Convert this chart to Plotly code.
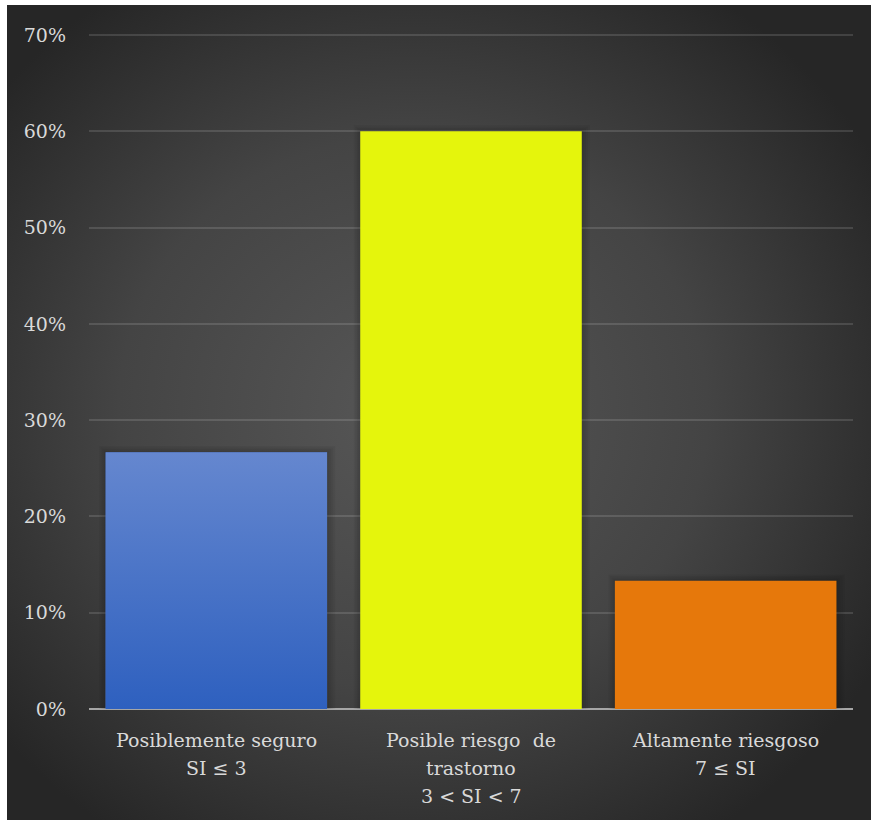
import base64
import plotly.graph_objects as go

# Data
category_lines = [
    ["Posiblemente seguro", "SI ≤ 3"],
    ["Posible riesgo  de", "trastorno", "3 < SI < 7"],
    ["Altamente riesgoso", "7 ≤ SI"],
]
shares = [0.2667, 0.60, 0.1333]
bar_colors = ["#4a75cb", "#e5f50c", "#e6780b"]
y_ticks = [0.0, 0.1, 0.2, 0.3, 0.4, 0.5, 0.6, 0.7]

W, H = 873, 820
M_L, M_R, M_T, M_B = 89, 20, 33, 111
PW, PH = W - M_L - M_R, H - M_T - M_B
Y_TOP = 0.7 * PH / 674  # a touch of headroom so the 70% gridline is kept


def px_to_paper_x(px):
    return (px - M_L) / PW


def px_to_paper_y(py):
    return (H - M_B - py) / PH


def svg_uri(svg):
    return "data:image/svg+xml;base64," + base64.b64encode(svg.encode()).decode()


# Dark panel with a soft radial highlight
bg_svg = (
    '<svg xmlns="http://www.w3.org/2000/svg" width="864" height="815" viewBox="0 0 864 815" preserveAspectRatio="none">'
    '<defs><radialGradient id="g" cx="0.47" cy="0.5" r="0.62">'
    '<stop offset="0" stop-color="#575757"/>'
    '<stop offset="0.55" stop-color="#444444"/>'
    '<stop offset="1" stop-color="#262626"/>'
    '</radialGradient></defs>'
    '<rect width="864" height="815" fill="url(#g)"/></svg>'
)

# Vertical gradient for the first bar
blue_svg = (
    '<svg xmlns="http://www.w3.org/2000/svg" width="100" height="100" viewBox="0 0 100 100" preserveAspectRatio="none">'
    '<defs><linearGradient id="b" x1="0" y1="0" x2="0" y2="1">'
    '<stop offset="0" stop-color="#6587cf"/>'
    '<stop offset="1" stop-color="#2e60bf"/>'
    '</linearGradient></defs>'
    '<rect width="100" height="100" fill="url(#b)"/></svg>'
)

bar_width = 0.87
x_pos = list(range(len(shares)))

fig = go.Figure(
    go.Bar(
        x=x_pos,
        y=shares,
        width=bar_width,
        marker=dict(color=bar_colors, line=dict(width=0)),
        hoverinfo="skip",
    )
)

images = [
    dict(
        source=svg_uri(bg_svg),
        xref="paper", yref="paper",
        x=px_to_paper_x(7), y=px_to_paper_y(5),
        sizex=px_to_paper_x(871) - px_to_paper_x(7),
        sizey=px_to_paper_y(5) - px_to_paper_y(820),
        xanchor="left", yanchor="top",
        sizing="stretch", layer="below",
    ),
    dict(
        source=svg_uri(blue_svg),
        xref="x", yref="y",
        x=x_pos[0] - bar_width / 2, y=shares[0],
        sizex=bar_width, sizey=shares[0],
        xanchor="left", yanchor="top",
        sizing="stretch", layer="above",
    ),
]

# Soft drop shadow behind each bar
shapes = []
for xi, v in zip(x_pos, shares):
    for k in range(4):
        grow = 0.008 * (k + 1)
        shapes.append(dict(
            type="rect", xref="x", yref="y", layer="between",
            x0=xi - bar_width / 2 - grow * 0.8, x1=xi + bar_width / 2 + grow,
            y0=0, y1=v + grow * 0.2,
            fillcolor="rgba(0,0,0,0.045)", line=dict(width=0),
        ))

text_font = dict(family="DejaVu Serif", size=19, color="#d9d9d9")

# Category labels, one annotation per line
annotations = []
for xi, lines in zip(x_pos, category_lines):
    for j, line in enumerate(lines):
        annotations.append(dict(
            x=xi, y=0, xref="x", yref="y",
            text=line, showarrow=False,
            xanchor="center", yanchor="middle",
            yshift=-(31 + 28 * j),
            font=text_font,
        ))

fig.update_layout(
    width=W, height=H,
    margin=dict(l=M_L, r=M_R, t=M_T, b=M_B, pad=0),
    paper_bgcolor="white",
    plot_bgcolor="rgba(0,0,0,0)",
    showlegend=False,
    bargap=1 - bar_width,
    images=images,
    shapes=shapes,
    annotations=annotations,
    font=text_font,
)

fig.update_xaxes(
    tickmode="array",
    tickvals=x_pos,
    showticklabels=False,
    range=[-0.5, len(shares) - 0.5],
    showgrid=False,
    zeroline=False,
    showline=False,
    ticks="",
    fixedrange=True,
)

fig.update_yaxes(
    range=[0, Y_TOP],
    tickmode="array",
    tickvals=y_ticks,
    tickformat=".0%",
    showgrid=True,
    gridcolor="rgba(255,255,255,0.13)",
    gridwidth=1.5,
    zeroline=True,
    zerolinecolor="#a6a6a6",
    zerolinewidth=2,
    showline=False,
    ticks="",
    ticklabelstandoff=22,
    tickfont=text_font,
    fixedrange=True,
)

fig.write_html("out.html")
